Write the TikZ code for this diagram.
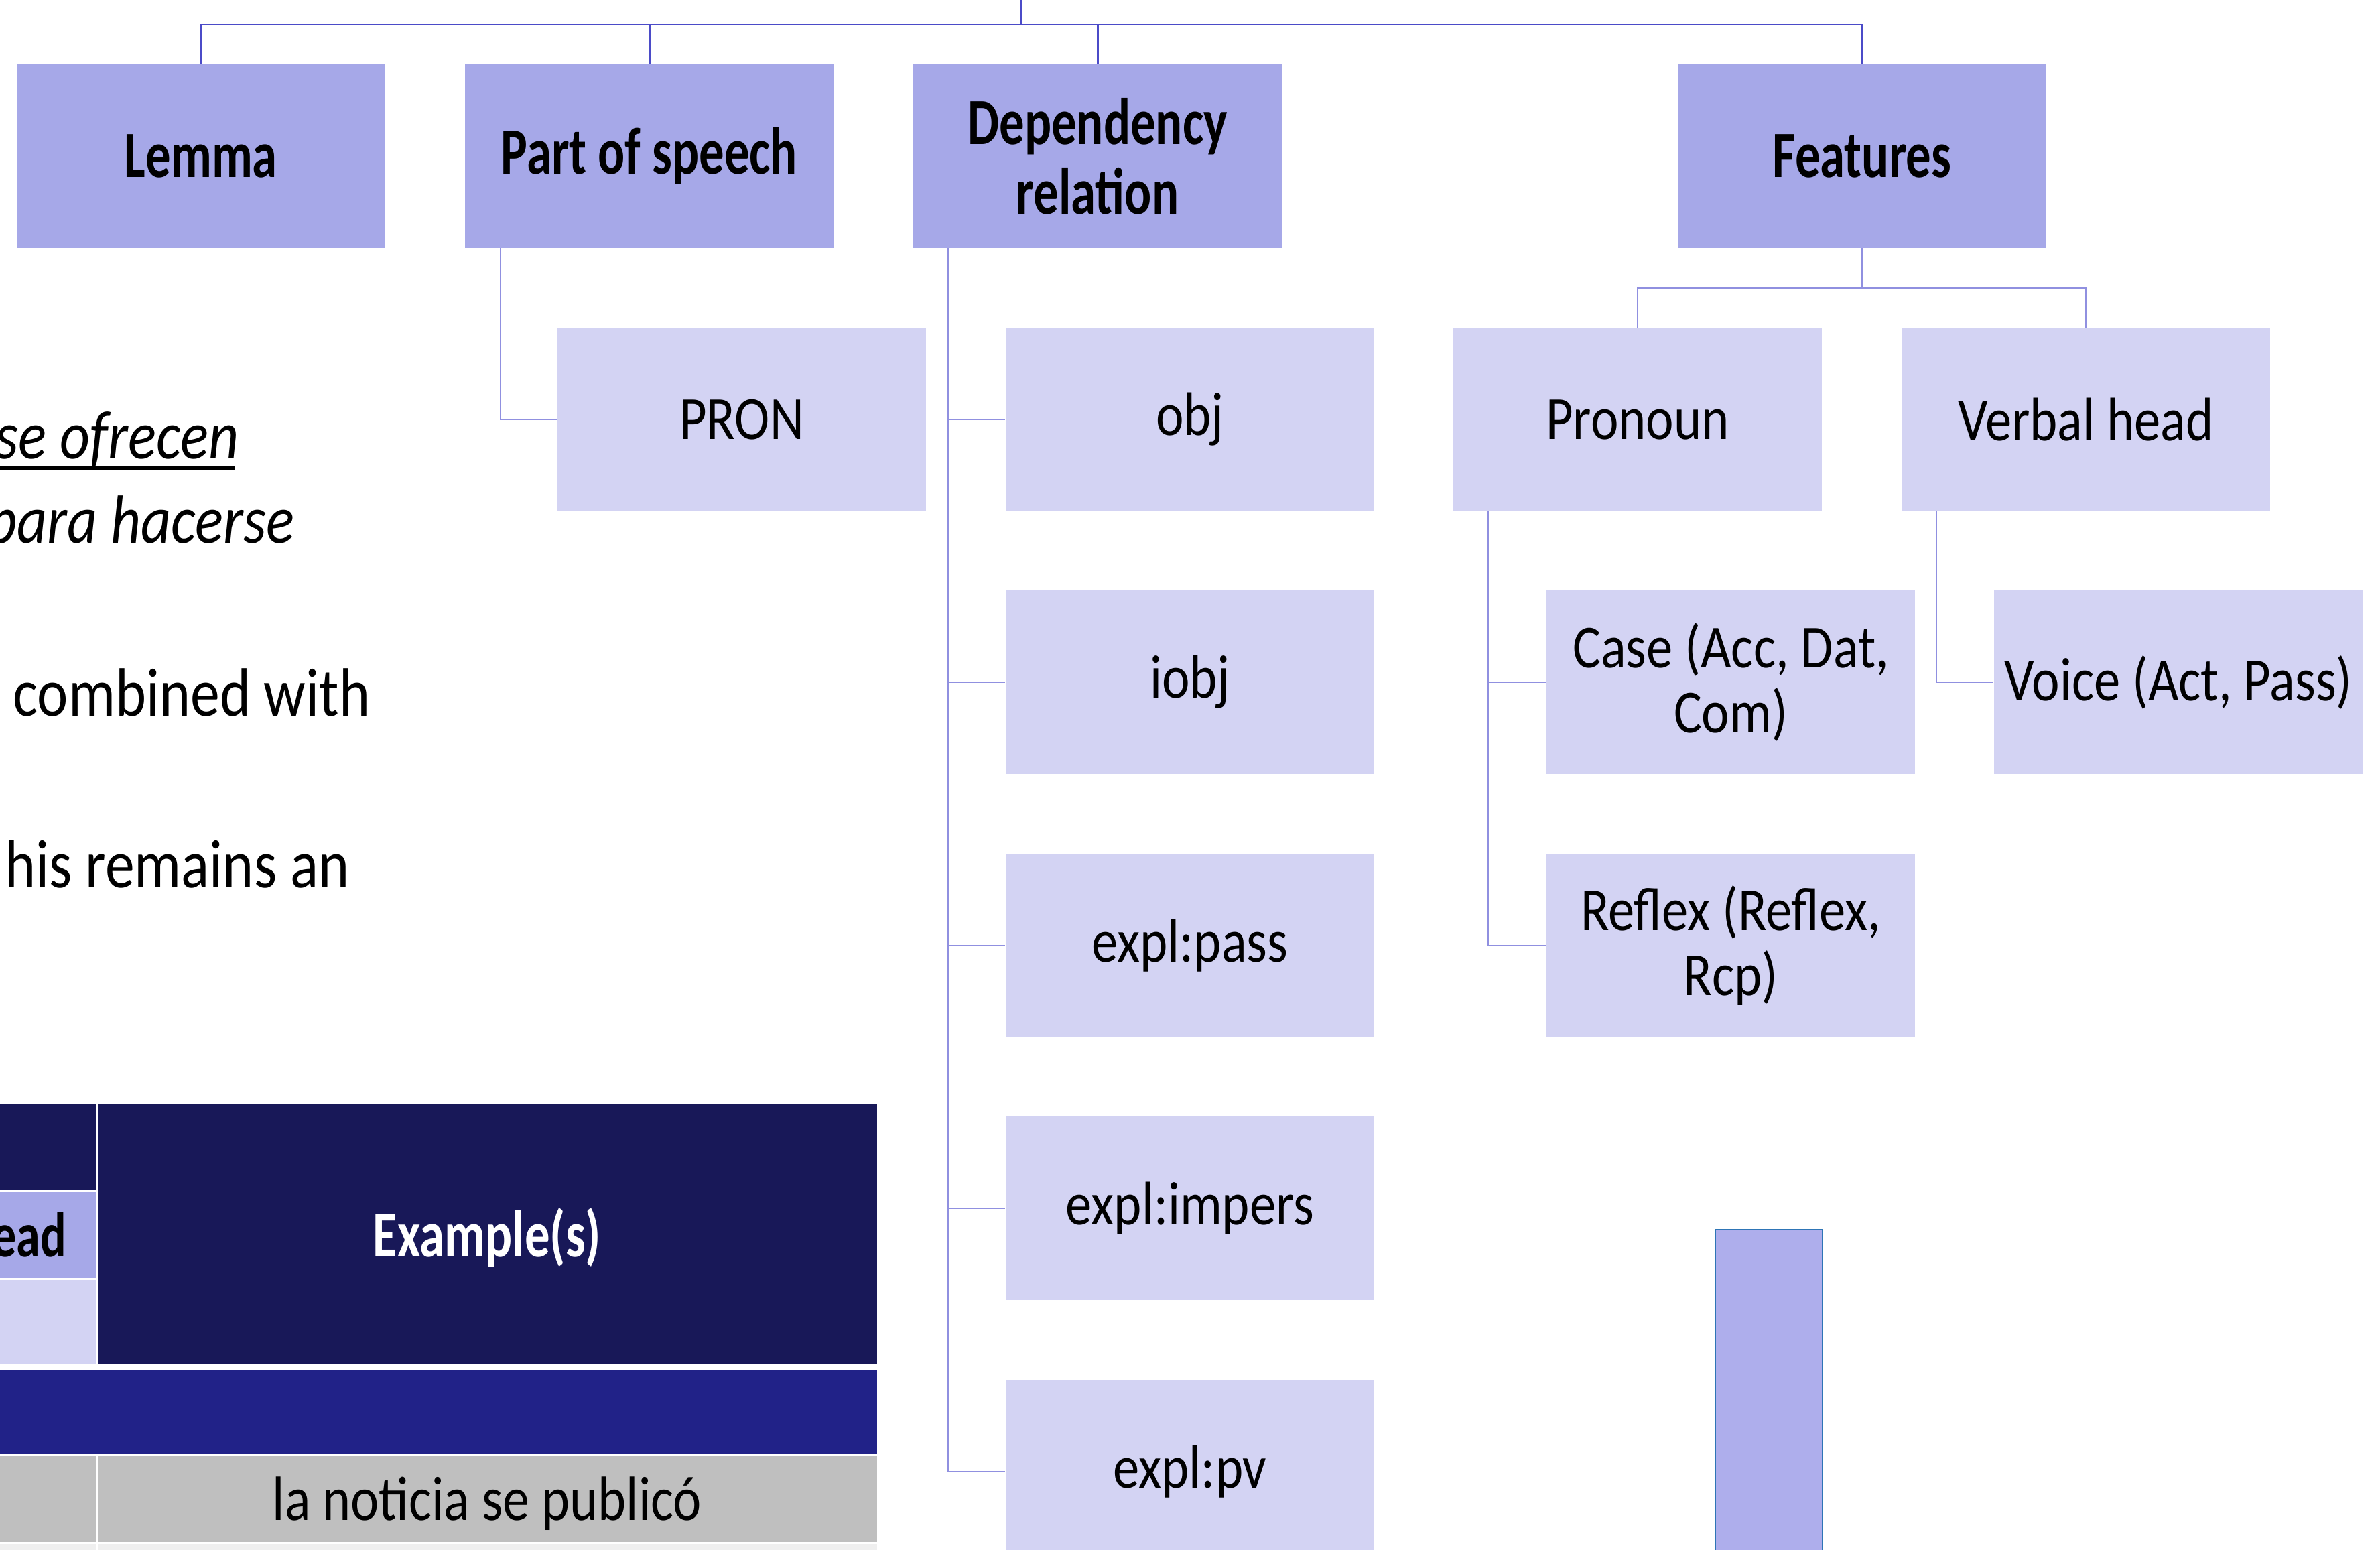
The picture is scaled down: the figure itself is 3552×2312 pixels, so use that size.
\documentclass[tikz,border=0pt]{standalone}
\usepackage{fontspec}
\setmainfont{Carlito}[UprightFeatures={FakeStretch=0.86},
  ItalicFeatures={FakeStretch=0.86},
  BoldFeatures={FakeStretch=0.76}]
\definecolor{lvhead}{HTML}{A6A8E8}
\definecolor{lvsub}{HTML}{D3D3F3}
\definecolor{lntop}{HTML}{4B4BC8}
\definecolor{lnsub}{HTML}{9090E0}
\definecolor{navy}{HTML}{181858}
\definecolor{band}{HTML}{212288}
\definecolor{rowgray}{HTML}{BFBFBF}
\definecolor{rowlight}{HTML}{EFEFEF}
\definecolor{barfill}{HTML}{AEAEEC}
\definecolor{barline}{HTML}{2E75B6}
\tikzset{
  headbox/.style={rectangle, fill=lvhead, minimum width=5.5cm, minimum height=2.73cm,
    inner sep=0pt, align=center, font=\bfseries\fontsize{28}{29.6}\selectfont},
  subbox/.style={rectangle, fill=lvsub, minimum width=5.5cm, minimum height=2.73cm,
    inner sep=0pt, align=center, font=\fontsize{26}{27.6}\selectfont},
  topline/.style={draw=lntop, line width=0.85pt},
  subline/.style={draw=lnsub, line width=0.6pt},
  bodytext/.style={inner sep=0pt, font=\fontsize{29}{31}\selectfont}
}
\begin{document}
\begin{tikzpicture}[x=0.01cm,y=-0.01cm]
  \useasboundingbox (0,0) rectangle (3552,2312);
  \clip (0,0) rectangle (3552,2312);

  % text on the left
  \node[bodytext, anchor=base east] (txtA) at (357,684) {\textit{se ofrecen}};
  \draw[line width=1.6pt] ([yshift=-0.14cm]txtA.base west) -- ([yshift=-0.14cm, xshift=-0.07cm]txtA.base east);
  \node[bodytext, anchor=base east] (txtB) at (440,810) {\textit{para hacerse}};
  \node[bodytext, anchor=base east] (txtC) at (553,1068) {combined with};
  \node[bodytext, anchor=base east] (txtD) at (522,1324) {his remains an};

  % table
  \fill[navy] (-10,1648) rectangle (143,1776);
  \fill[lvhead] (-10,1779) rectangle (143,1907);
  \fill[lvsub] (-10,1910) rectangle (143,2035);
  \fill[navy] (146,1648) rectangle (1309,2035);
  \fill[band] (-10,2044) rectangle (1309,2169);
  \fill[rowgray] (-10,2172) rectangle (143,2301);
  \fill[rowgray] (146,2172) rectangle (1309,2301);
  \fill[rowlight] (-10,2304) rectangle (143,2330);
  \fill[rowlight] (146,2304) rectangle (1309,2330);
  \node[inner sep=0pt, anchor=base east, font=\bfseries\fontsize{27}{29}\selectfont] (vhead) at (100,1875) {ead};
  \node[inner sep=0pt, anchor=base, text=white, font=\bfseries\fontsize{28}{30}\selectfont] (exmp) at (727,1875) {Example(s)};
  \node[inner sep=0pt, anchor=base, font=\fontsize{26.5}{28}\selectfont] (exone) at (727,2268) {la noticia se publicó};

  % bar
  \draw[draw=barline, fill=barfill, line width=0.6pt] (2560,1835) rectangle (2720,2340);

  % first level
  \node[headbox] (lemma) at (300,233) {Lemma};
  \node[headbox] (pos) at (969,233) {Part of speech};
  \node[headbox] (dep) at (1638,233) {Dependency\\relation};
  \node[headbox] (feat) at (2779,233) {Features};

  % second level
  \node[subbox] (pron) at (1107,626) {PRON};
  \node[subbox] (obj) at (1776,626) {obj};
  \node[subbox] (iobj) at (1776,1018) {iobj};
  \node[subbox] (pass) at (1776,1411) {expl:pass};
  \node[subbox] (impers) at (1776,1803) {expl:impers};
  \node[subbox] (pv) at (1776,2196) {expl:pv};
  \node[subbox] (pronoun) at (2444,626) {Pronoun};
  \node[subbox] (verbal) at (3113,626) {Verbal head};
  \node[subbox] (case) at (2583,1018) {Case (Acc, Dat,\\Com)};
  \node[subbox] (voice) at (3251,1018) {Voice (Act, Pass)};
  \node[subbox] (reflex) at (2583,1411) {Reflex (Reflex,\\Rcp)};

  % connectors
  \coordinate (root) at (1523,-10);
  \coordinate (hub) at (1523,37);
  \draw[topline] (root) -- (hub);
  \draw[topline] (lemma.north) -- (lemma.north |- hub) -- (feat.north |- hub) -- (feat.north);
  \draw[topline] (pos.north) -- (pos.north |- hub);
  \draw[topline] (dep.north) -- (dep.north |- hub);

  \draw[subline] ([xshift=0.54cm]pos.south west) |- (pron.west);
  \foreach \c in {obj,iobj,pass,impers,pv}
    \draw[subline] ([xshift=0.53cm]dep.south west) |- (\c.west);

  \coordinate (fhub) at (2779,430);
  \draw[subline] (feat.south) -- (fhub);
  \draw[subline] (pronoun.north) |- (fhub) -| (verbal.north);
  \foreach \c in {case,reflex}
    \draw[subline] ([xshift=0.53cm]pronoun.south west) |- (\c.west);
  \draw[subline] ([xshift=0.53cm]verbal.south west) |- (voice.west);
\end{tikzpicture}
\end{document}
